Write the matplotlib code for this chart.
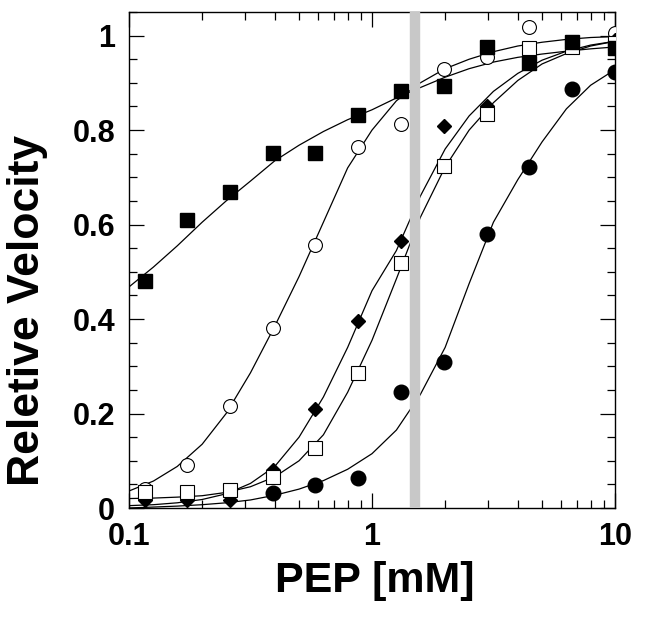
import matplotlib
matplotlib.use("Agg")
import matplotlib.pyplot as plt
from matplotlib.ticker import MultipleLocator, LogLocator, FuncFormatter, NullFormatter

# PEP concentrations (mM), 1.5-fold dilution series
pep = [0.116, 0.173, 0.26, 0.39, 0.585, 0.878, 1.32, 1.98, 2.96, 4.44, 6.67, 10.0]

# measured points
sq_filled = [0.48, 0.61, 0.67, 0.751, 0.751, 0.832, 0.883, 0.893, 0.976, 0.942, 0.986, 0.974]
circ_open = [0.04, 0.091, 0.216, 0.381, 0.557, 0.764, 0.813, 0.929, 0.955, 1.018, 0.985, 1.005]
diamond = [0.017, 0.017, 0.017, 0.08, 0.21, 0.396, 0.565, 0.808, 0.85, 0.96, 0.98, 0.99]
sq_open = [0.034, 0.034, 0.038, 0.066, 0.127, 0.286, 0.519, 0.724, 0.835, 0.973, 0.975, 0.985]
pep_fc = [0.39, 0.585, 0.878, 1.32, 1.98, 2.96, 4.44, 6.67, 10.0]
circ_filled = [0.032, 0.049, 0.063, 0.245, 0.309, 0.58, 0.721, 0.888, 0.923]

# fitted curves at these concentrations
curve_x = [0.1, 0.126, 0.158, 0.2, 0.251, 0.316, 0.398, 0.501, 0.631, 0.794, 1.0,
           1.26, 1.58, 2.0, 2.51, 3.16, 3.98, 5.01, 6.31, 7.94, 10.0]
fs_fit = [0.468, 0.51, 0.555, 0.605, 0.65, 0.692, 0.735, 0.768, 0.797, 0.822, 0.843,
          0.868, 0.89, 0.912, 0.93, 0.944, 0.954, 0.961, 0.967, 0.972, 0.976]
oc_fit = [0.036, 0.057, 0.088, 0.135, 0.2, 0.286, 0.385, 0.49, 0.605, 0.72, 0.8,
          0.862, 0.9, 0.93, 0.95, 0.966, 0.978, 0.986, 0.992, 0.996, 0.998]
dm_fit = [0.005, 0.007, 0.011, 0.018, 0.03, 0.052, 0.088, 0.15, 0.235, 0.34, 0.46,
          0.545, 0.66, 0.76, 0.83, 0.882, 0.92, 0.948, 0.967, 0.98, 0.988]
os_fit = [0.02, 0.021, 0.023, 0.026, 0.033, 0.045, 0.066, 0.1, 0.155, 0.245, 0.355,
          0.485, 0.615, 0.722, 0.8, 0.858, 0.905, 0.94, 0.962, 0.978, 0.988]
fc_fit = [0.0, 0.002, 0.004, 0.007, 0.011, 0.017, 0.027, 0.04, 0.058, 0.082, 0.115,
          0.165, 0.24, 0.34, 0.475, 0.605, 0.695, 0.775, 0.845, 0.895, 0.928]

marker_line = 1.5  # gray vertical marker, mM

plt.rcParams["font.family"] = ["Liberation Sans", "DejaVu Sans"]
plt.rcParams["font.weight"] = "bold"

fig = plt.figure(figsize=(6.5, 6.21), dpi=100)
ax = fig.add_axes([129 / 650, 1 - 508 / 621, 486 / 650, 496 / 621])

for fit in [fs_fit, oc_fit, dm_fit, os_fit, fc_fit]:
    ax.plot(curve_x, fit, color="black", lw=0.9, zorder=2)

ax.axvline(marker_line, color="#c8c8c8", lw=7.5, zorder=3)

ax.plot(pep, circ_open, "o", ms=10, mfc="white", mec="black", mew=0.8, zorder=4)
ax.plot(pep, diamond, "D", ms=7.2, mfc="black", mec="black", zorder=5)
ax.plot(pep_fc, circ_filled, "o", ms=10.5, mfc="black", mec="black", zorder=6)
ax.plot(pep, sq_open, "s", ms=10.5, mfc="white", mec="black", mew=0.8, zorder=7)
ax.plot(pep, sq_filled, "s", ms=10.5, mfc="black", mec="black", zorder=8)

ax.set_xscale("log")
ax.set_xlim(0.1, 10)
ax.set_ylim(0, 1.05)

ax.xaxis.set_major_locator(LogLocator(base=10))
ax.xaxis.set_minor_locator(LogLocator(base=10, subs=range(2, 10)))
ax.xaxis.set_major_formatter(FuncFormatter(lambda v, p: "%g" % v))
ax.xaxis.set_minor_formatter(NullFormatter())
ax.yaxis.set_major_locator(MultipleLocator(0.2))
ax.yaxis.set_minor_locator(MultipleLocator(0.05))
ax.yaxis.set_major_formatter(FuncFormatter(lambda v, p: "%g" % round(v, 2)))

ax.tick_params(which="both", direction="in", top=True, right=True, width=0.9,
               labelsize=22, pad=10)
ax.tick_params(which="major", length=11)
ax.tick_params(which="minor", length=5.5)
for s in ax.spines.values():
    s.set_linewidth(1.0)

fig.text(375 / 650, 1 - 581 / 621, "PEP [mM]", ha="center", va="center",
         fontsize=31, fontweight="bold")
fig.text(28 / 650, 1 - 310 / 621, "Reletive Velocity", ha="center", va="center",
         rotation=90, fontsize=32, fontweight="bold")

fig.savefig("out.png", dpi=100)
